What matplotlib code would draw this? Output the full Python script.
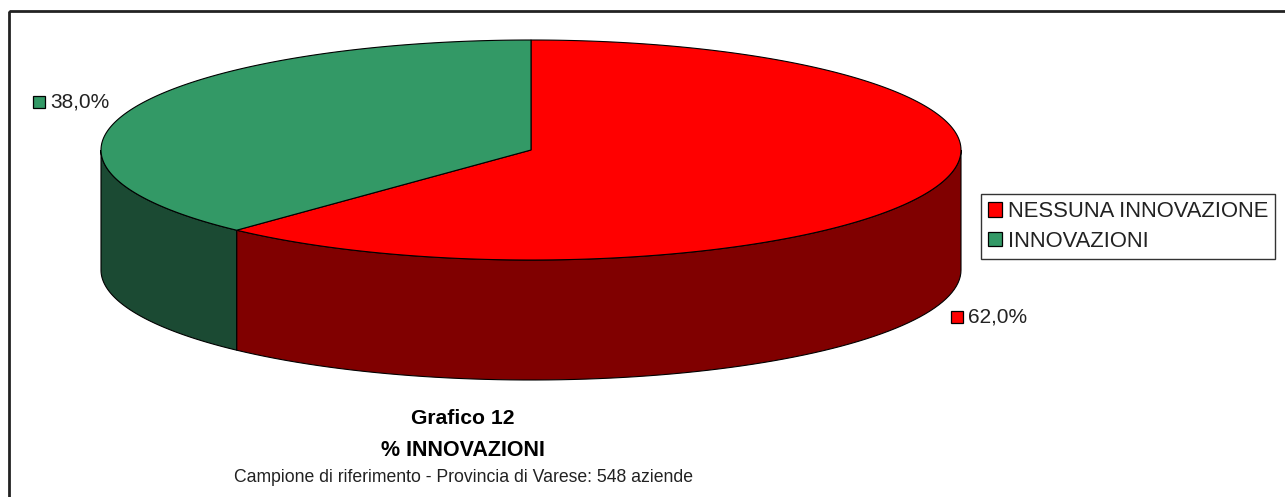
import numpy as np
import matplotlib
matplotlib.use('Agg')
import matplotlib.pyplot as plt
from matplotlib.patches import Polygon, Rectangle, Patch

plt.rcParams['font.family'] = ['Liberation Sans', 'DejaVu Sans']

# data
labels = ['NESSUNA INNOVAZIONE', 'INNOVAZIONI']
values = [62.0, 38.0]
top_colors = ['#FF0000', '#339966']
side_colors = ['#800000', '#1B4A33']
pct_labels = ['62,0%', '38,0%']
title_lines = ['Grafico 12', '% INNOVAZIONI']
subtitle = 'Campione di riferimento - Provincia di Varese: 548 aziende'

# geometry of the 3d pie (pixel space)
cx, cy, rx, ry, depth = 531, 150, 430, 110, 120

fig = plt.figure(figsize=(12.85, 4.97), dpi=100)
ax = fig.add_axes([0, 0, 1, 1])
ax.set_xlim(0, 1285)
ax.set_ylim(497, 0)
ax.axis('off')


def pt(t, dy=0):
    t = np.radians(t)
    return np.column_stack([cx + rx * np.cos(t), cy - ry * np.sin(t) + dy])


# slice angles, starting at 12 o'clock and going clockwise
fracs = np.array(values) / sum(values)
ends = 90 - 360 * np.cumsum(fracs)
starts = np.concatenate([[90], ends[:-1]])

# sides first (only the front half, angles -180..0)
for s, e, col in zip(starts, ends, side_colors):
    for shift in (0, 360, -360):
        a, b = max(e + shift, -180), min(s + shift, 0)
        if a < b:
            t = np.linspace(b, a, 80)
            top = pt(t)
            bot = pt(t[::-1], depth)
            ax.add_patch(Polygon(np.vstack([top, bot]), closed=True, fc=col,
                                 ec='black', lw=0.8, zorder=2))

# top faces
for s, e, col in zip(starts, ends, top_colors):
    t = np.linspace(s, e, 200)
    poly = np.vstack([[cx, cy], pt(t)])
    ax.add_patch(Polygon(poly, closed=True, fc=col, ec='black', lw=0.8, zorder=3))

# percentage labels with small colour squares
label_pos = [(968, 317), (50, 102)]
for (x, y), txt, col in zip(label_pos, pct_labels, top_colors):
    ax.add_patch(Rectangle((x - 17, y - 6), 12, 12, fc=col, ec='black', lw=0.9, zorder=4))
    ax.text(x, y, txt, fontsize=15, va='center', ha='left', color='#222222')

# legend
handles = [Patch(fc=c, ec='black', lw=0.9) for c in top_colors]
leg = ax.legend(handles, labels, loc='upper left', bbox_to_anchor=(981 / 1285, 1 - 194 / 497),
                fontsize=15.8, frameon=True, fancybox=False, handlelength=0.65, handleheight=0.65,
                handletextpad=0.25, labelspacing=0.4, borderpad=0.32, borderaxespad=0)
leg.get_frame().set_edgecolor('black')
leg.get_frame().set_linewidth(1.0)
for t in leg.get_texts():
    t.set_color('#222222')

# titles
ax.text(463, 418, title_lines[0], fontsize=15.2, fontweight='bold', ha='center', va='center')
ax.text(463, 450, title_lines[1], fontsize=15.5, fontweight='bold', ha='center', va='center')
ax.text(463, 478, subtitle, fontsize=12.7, ha='center', va='center', color='#222222')

# outer frame (clipped at right and bottom)
ax.add_patch(Rectangle((9, 11), 1400, 600, fill=False, ec='#222222', lw=2, zorder=5))

fig.savefig('out.png', dpi=100)
